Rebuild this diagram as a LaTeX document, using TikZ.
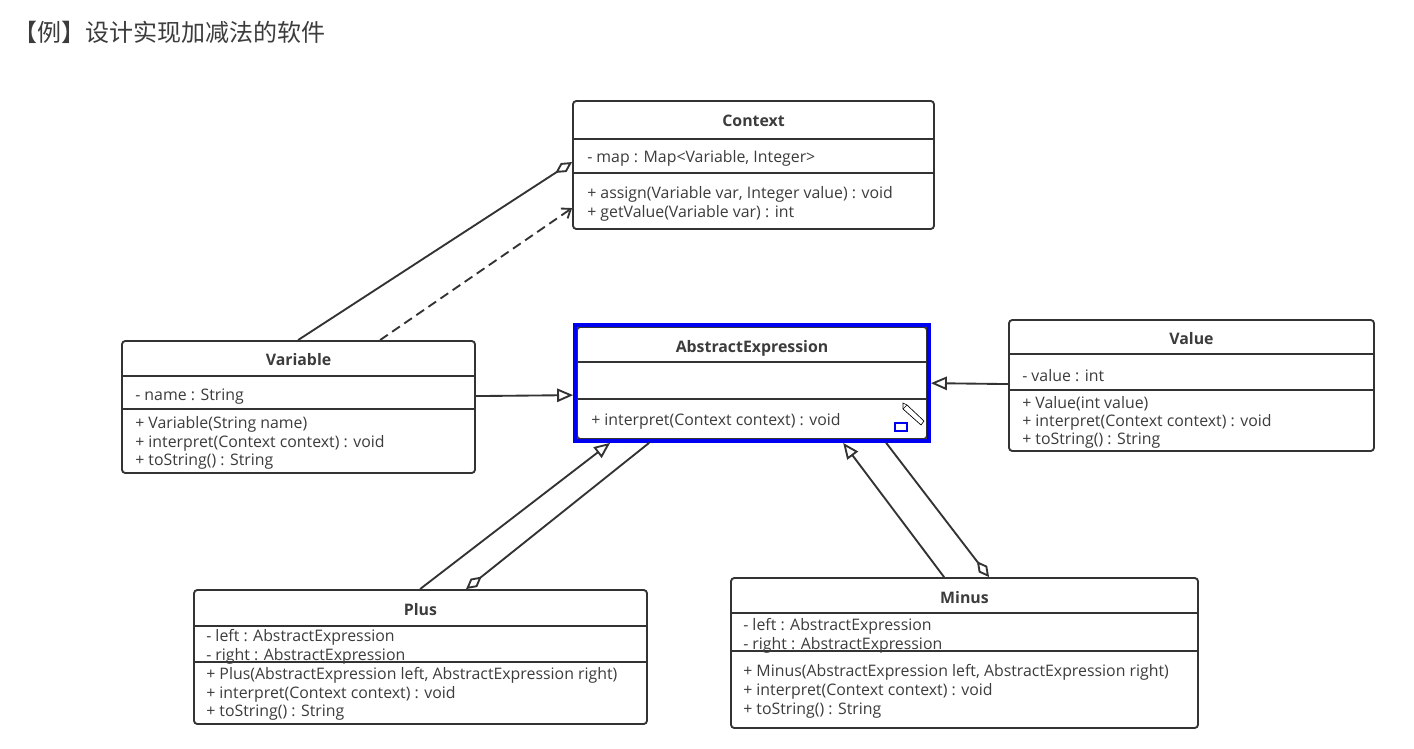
\documentclass[tikz,border=0pt]{standalone}
\usepackage{fontspec}
\setmainfont{Open Sans}
\newfontfamily\cjk{Noto Sans CJK SC}
\usetikzlibrary{arrows.meta,fit,calc}
\definecolor{ln}{HTML}{333333}
\definecolor{tx}{HTML}{3C3C3C}
\definecolor{selblue}{RGB}{0,0,240}
\begin{document}
\begin{tikzpicture}[x=0.75pt,y=-0.75pt,
  cls/.style={draw=ln, line width=1.4pt, rounded corners=2.5pt, inner sep=0pt},
  div/.style={draw=ln, line width=1.4pt},
  ttl/.style={font=\bfseries\fontsize{11.9}{13}\selectfont, text=tx, inner sep=0pt},
  mem/.style={font=\fontsize{11.9}{13}\selectfont, text=tx, anchor=west, inner sep=0pt},
  conn/.style={draw=ln, line width=1.4pt},
  agg/.style={conn, {Diamond[open, length=15pt, width=8pt]}-},
  gen/.style={conn, -{Triangle[open, length=12pt, width=10pt]}},
  dep/.style={conn, dashed, dash pattern=on 7pt off 4pt, -{Straight Barb[length=6pt, width=9pt]}}
]
\useasboundingbox (0,0) rectangle (1414,749);
\fill[white] (0,0) rectangle (1414,749);

% title
\node[anchor=west, font=\cjk\fontsize{18}{20}\selectfont, text=tx, inner sep=0pt] (title) at (13,32) {【例】设计实现加减法的软件};

% Context
\node[cls, fit={(573,101) (934,229)}] (ctx) {};
\draw[div] ($(ctx.north west)+(0,39)$) -- ($(ctx.north east)+(0,39)$);
\draw[div] ($(ctx.north west)+(0,73)$) -- ($(ctx.north east)+(0,73)$);
\node[ttl] (ctxT) at (753.5,121) {Context};
\node[mem] (ctxA1) at (587,158) {- map : Map<Variable, Integer>};
\node[mem] (ctxM1) at (587,194) {+ assign(Variable var, Integer value) : void};
\node[mem] (ctxM2) at (587,213) {+ getValue(Variable var) : int};

% Variable
\node[cls, fit={(122,341) (475,473)}] (var) {};
\draw[div] ($(var.north west)+(0,36)$) -- ($(var.north east)+(0,36)$);
\draw[div] ($(var.north west)+(0,69)$) -- ($(var.north east)+(0,69)$);
\node[ttl] (varT) at (298.5,360) {Variable};
\node[mem] (varA1) at (135,397) {- name : String};
\node[mem] (varM1) at (135,424) {+ Variable(String name)};
\node[mem] (varM2) at (135,443) {+ interpret(Context context) : void};
\node[mem] (varM3) at (135,462) {+ toString() : String};

% AbstractExpression
\node[cls, fit={(577,327) (927,439)}] (ae) {};
\draw[div] ($(ae.north west)+(0,36)$) -- ($(ae.north east)+(0,36)$);
\draw[div] ($(ae.north west)+(0,73)$) -- ($(ae.north east)+(0,73)$);
\node[draw=selblue, line width=2.8pt, inner sep=0pt, fit={(575,325) (929,441)}] (aeSel) {};
\node[ttl] (aeT) at (752,348) {AbstractExpression};
\node[mem] (aeM1) at (591,421) {+ interpret(Context context) : void};
% edit marks
\draw[draw=selblue, line width=0.8pt] (895,423) rectangle (907,431);
\draw[draw=black, line width=0.5pt, fill=white] (907,405) -- (924,421) -- (921,425) -- (903,409) -- cycle;
\draw[draw=black, line width=0.5pt] (907,405) -- (903,403) -- (903,409);

% Value
\node[cls, fit={(1009,320) (1374,451)}] (val) {};
\draw[div] ($(val.north west)+(0,35)$) -- ($(val.north east)+(0,35)$);
\draw[div] ($(val.north west)+(0,71)$) -- ($(val.north east)+(0,71)$);
\node[ttl] (valT) at (1191.5,339) {Value};
\node[mem] (valA1) at (1022,376) {- value : int};
\node[mem] (valM1) at (1022,404) {+ Value(int value)};
\node[mem] (valM2) at (1022,422) {+ interpret(Context context) : void};
\node[mem] (valM3) at (1022,441) {+ toString() : String};

% Plus
\node[cls, fit={(194,590) (647,724)}] (plus) {};
\draw[div] ($(plus.north west)+(0,37)$) -- ($(plus.north east)+(0,37)$);
\draw[div] ($(plus.north west)+(0,73)$) -- ($(plus.north east)+(0,73)$);
\node[ttl] (plusT) at (420.5,610) {Plus};
\node[mem] (plusA1) at (206,637) {- left : AbstractExpression};
\node[mem] (plusA2) at (206,656) {- right : AbstractExpression};
\node[mem] (plusM1) at (206,675) {+ Plus(AbstractExpression left, AbstractExpression right)};
\node[mem] (plusM2) at (206,694) {+ interpret(Context context) : void};
\node[mem] (plusM3) at (206,713) {+ toString() : String};

% Minus
\node[cls, fit={(731,578) (1198,728)}] (minus) {};
\draw[div] ($(minus.north west)+(0,36)$) -- ($(minus.north east)+(0,36)$);
\draw[div] ($(minus.north west)+(0,74)$) -- ($(minus.north east)+(0,74)$);
\node[ttl] (minusT) at (964.5,598) {Minus};
\node[mem] (minusA1) at (743,626) {- left : AbstractExpression};
\node[mem] (minusA2) at (743,645) {- right : AbstractExpression};
\node[mem] (minusM1) at (743,672) {+ Minus(AbstractExpression left, AbstractExpression right)};
\node[mem] (minusM2) at (743,691) {+ interpret(Context context) : void};
\node[mem] (minusM3) at (743,711) {+ toString() : String};

% connectors
\draw[agg] ($(ctx.north west)+(0,62)$) -- ($(var.north west)+(177,0)$);
\draw[dep] ($(var.north west)+(259,0)$) -- ($(ctx.north west)+(0,108)$);
\draw[gen] ($(var.north east)+(0,56)$) -- ($(aeSel.north west)+(0,72)$);
\draw[gen] ($(val.north west)+(0,65)$) -- ($(aeSel.north east)+(0,60)$);
\draw[gen] ($(plus.north west)+(227,0)$) -- ($(aeSel.south west)+(37,0)$);
\draw[agg] ($(plus.north west)+(273,0)$) -- ($(aeSel.south west)+(76,0)$);
\draw[gen] ($(minus.north west)+(214,0)$) -- ($(aeSel.south west)+(270,0)$);
\draw[agg] ($(minus.north west)+(259,0)$) -- ($(aeSel.south west)+(313,0)$);
\end{tikzpicture}
\end{document}
